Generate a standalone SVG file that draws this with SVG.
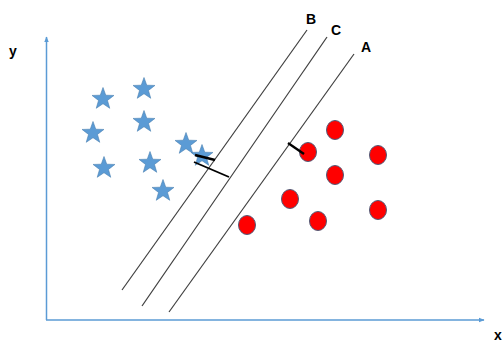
<svg xmlns="http://www.w3.org/2000/svg" width="504" height="342" viewBox="0 0 504 342">
<style>
.axis{stroke:#5B9BD5;stroke-width:1.5;fill:none}
.sep{stroke:#3f3f3f;stroke-width:1.2;fill:none}
.tick{stroke:#000;stroke-width:2.4;fill:none}
.star{fill:#5B9BD5;stroke:#4A7FB0;stroke-width:0.6}
.dot{fill:#FF0000;stroke:#4F5A78;stroke-width:1}
.lbl{font-family:"Liberation Sans",Arial,sans-serif;font-weight:bold;font-size:14px;fill:#000}
</style>
<defs>
<marker id="arr" viewBox="0 0 10 10" refX="9" refY="5" markerWidth="4" markerHeight="4" orient="auto" markerUnits="strokeWidth">
<path d="M0,1 L10,5 L0,9 z" fill="#5B9BD5"/>
</marker>
<polygon id="st" points="0,-11.5 2.75,-3.8 10.94,-3.55 4.47,1.45 6.76,9.3 0,4.7 -6.76,9.3 -4.47,1.45 -10.94,-3.55 -2.75,-3.8"/>
</defs>
<rect width="504" height="342" fill="#fff"/>
<g id="axes">
<line class="axis" x1="46.5" y1="320" x2="46.5" y2="37" marker-end="url(#arr)"/>
<line class="axis" x1="46" y1="320" x2="484" y2="320" marker-end="url(#arr)"/>
<text class="lbl" x="9" y="56">y</text>
<text class="lbl" x="494" y="340">x</text>
</g>
<g id="labels">
<text class="lbl" x="306" y="24">B</text>
<text class="lbl" x="331" y="35">C</text>
<text class="lbl" x="361" y="52">A</text>
</g>
<g id="stars">
<use href="#st" class="star" x="103" y="99"/>
<use href="#st" class="star" x="144" y="89"/>
<use href="#st" class="star" x="93" y="133"/>
<use href="#st" class="star" x="144" y="122"/>
<use href="#st" class="star" x="104" y="168"/>
<use href="#st" class="star" x="150" y="163"/>
<use href="#st" class="star" x="186" y="144"/>
<use href="#st" class="star" x="202" y="156"/>
<use href="#st" class="star" x="163" y="191"/>
</g>
<g id="circles">
<ellipse class="dot" cx="335" cy="130" rx="8.5" ry="9.5"/>
<ellipse class="dot" cx="308" cy="152" rx="8.5" ry="9.5"/>
<ellipse class="dot" cx="378" cy="155" rx="8.5" ry="9.5"/>
<ellipse class="dot" cx="335" cy="175" rx="8.5" ry="9.5"/>
<ellipse class="dot" cx="290" cy="199" rx="8.5" ry="9.5"/>
<ellipse class="dot" cx="378" cy="210" rx="8.5" ry="9.5"/>
<ellipse class="dot" cx="318" cy="221" rx="8.5" ry="9.5"/>
<ellipse class="dot" cx="247" cy="225" rx="8.5" ry="9.5"/>
</g>
<g id="connectors">
<line class="sep" x1="307" y1="30" x2="122" y2="290"/>
<line class="sep" x1="327" y1="37" x2="142" y2="306"/>
<line class="sep" x1="354" y1="54" x2="169" y2="312"/>
<line class="tick" x1="195" y1="155" x2="215" y2="160"/>
<line class="tick" x1="194" y1="162" x2="229" y2="177" style="stroke-width:1.9"/>
<line class="tick" x1="288" y1="143" x2="304" y2="154"/>
</g>
</svg>
